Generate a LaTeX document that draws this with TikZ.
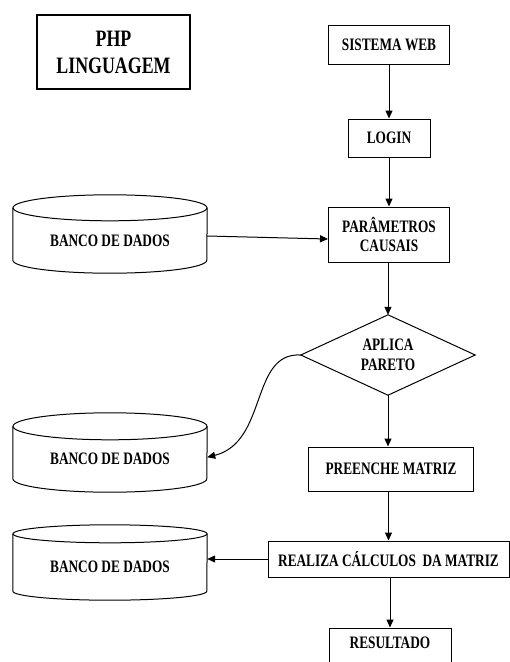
\documentclass[tikz,border=0pt]{standalone}
\usepackage{fontspec}
\setmainfont{Liberation Serif}[FakeStretch=0.76]
\usetikzlibrary{arrows.meta}
\begin{document}
\begin{tikzpicture}[x=1pt,y=1pt,
  txt/.style={font=\bfseries\fontsize{17.5}{18.5}\selectfont},
  box/.style={txt,draw,line width=1pt,inner sep=0pt,align=center},
  body/.style={txt,inner sep=0pt,minimum width=194pt},
  arr/.style={line width=1pt,-{Triangle[length=8pt,width=7pt]}},
  outline/.style={line width=1pt}]
\useasboundingbox (0,0) rectangle (510,-662);

% title box
\node[box,line width=2.5pt,minimum width=153pt,minimum height=74pt,
      font=\bfseries\fontsize{23.5}{27}\selectfont] (php) at (113.5,-52) {PHP\\LINGUAGEM};

% main flow
\node[box,minimum width=121pt,minimum height=39pt] (web) at (389,-44.5) {SISTEMA WEB};
\node[box,minimum width=82pt,minimum height=38pt] (login) at (389,-138) {LOGIN};
\node[box,minimum width=121pt,minimum height=55pt] (par) at (389,-234.5) {PARÂMETROS\\CAUSAIS};
\node[txt,inner sep=0pt,minimum width=174pt,minimum height=80pt,align=center,
      font=\bfseries\fontsize{17.5}{20}\selectfont] (dia) at (388,-355) {APLICA\\PARETO};
\draw[outline] (dia.north) -- (dia.east) -- (dia.south) -- (dia.west) -- cycle;
\node[box,minimum width=165pt,minimum height=44pt] (pre) at (391,-469) {PREENCHE MATRIZ};
\node[box,minimum width=241pt,minimum height=36pt] (real) at (388.5,-559) {REALIZA CÁLCULOS~ DA MATRIZ};
\node[box,minimum width=122pt,minimum height=40pt,text depth=10pt] (res) at (390,-648) {RESULTADO};

% databases: body nodes, outlines drawn around them
\node[body,minimum height=65pt] (db1) at (110,-240.5) {BANCO DE DADOS};
\node[body,minimum height=65.5pt] (db2) at (110,-459.25) {BANCO DE DADOS};
\node[body,minimum height=66pt] (db3) at (110,-567) {BANCO DE DADOS};
\foreach \d/\r in {db1/13,db2/13.5,db3/9}{
  \draw[outline] (\d.north west) -- ([yshift=\r]\d.south west)
     arc[start angle=180,end angle=360,x radius=97,y radius=\r] -- (\d.north east);
  \draw[outline] (\d.north) ellipse[x radius=97,y radius=\r];
}

% connectors
\draw[arr] (web) -- (login);
\draw[arr] (login) -- (par);
\draw[arr] (par.south -| dia.north) -- (dia.north);
\draw[arr] (dia.south) -- (dia.south |- pre.north);
\draw[arr] (real.north |- pre.south) -- (real.north);
\draw[arr] (real.south -| res.north) -- (res.north);
\draw[arr] ([yshift=4.5]db1.east) -- ([yshift=-4.5]par.west);
\draw[arr] (real.west) -- (real.west -| db3.east);
\draw[arr] (dia.west) .. controls (250,-352) and (268,-442) .. ([yshift=2]db2.east);
\end{tikzpicture}
\end{document}
